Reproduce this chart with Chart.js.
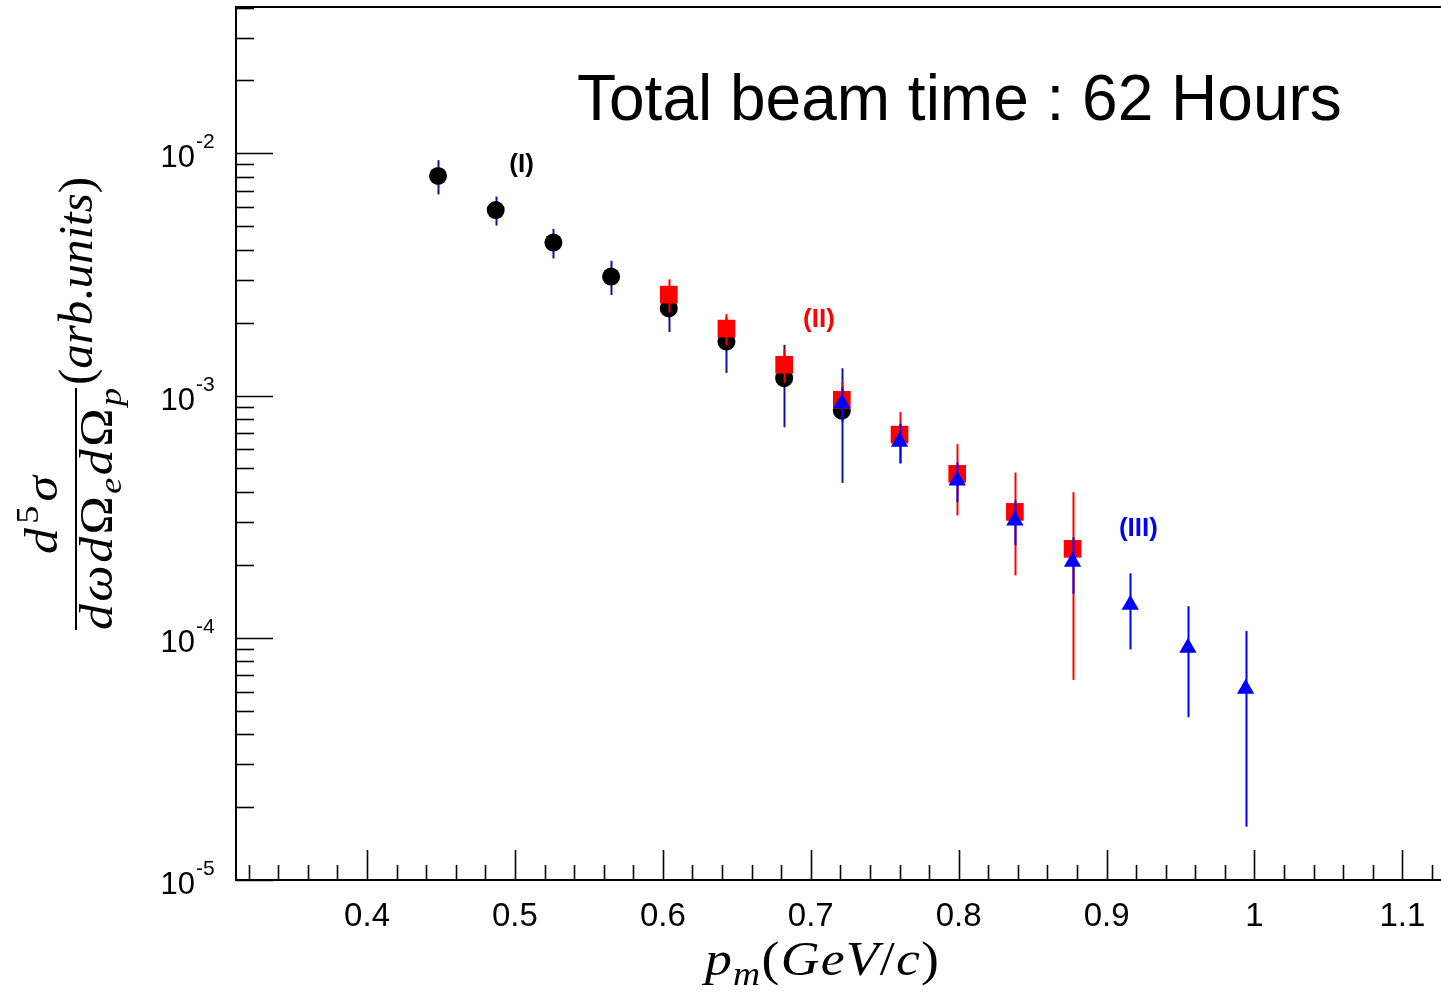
<!DOCTYPE html>
<html>
<head>
<meta charset="utf-8">
<script src="https://cdn.jsdelivr.net/npm/chart.js@4.4.1/dist/chart.umd.min.js"></script>
<style>
  html, body { margin: 0; padding: 0; background: #fff; }
  #wrap { position: relative; width: 1441px; height: 994px; }
</style>
</head>
<body>
<div id="wrap"><canvas id="c" width="1441" height="994"></canvas></div>
<script>
// series (I) : black circles
const pmI = [0.448, 0.487, 0.526, 0.565, 0.604, 0.643, 0.682, 0.721];
const sigmaI = [8.07e-3, 5.83e-3, 4.28e-3, 3.10e-3, 2.29e-3, 1.67e-3, 1.18e-3, 8.66e-4];
const errI = [1.3e-3, 0.8e-3, 0.6e-3, 0.5e-3, 0.46e-3, 0.43e-3, 0.44e-3, 0.43e-3];

// series (II) : red squares
const pmII = [0.604, 0.643, 0.682, 0.721, 0.760, 0.799, 0.838, 0.877];
const sigmaII = [2.61e-3, 1.89e-3, 1.34e-3, 9.6e-4, 6.9e-4, 4.75e-4, 3.31e-4, 2.33e-4];
const errII = [0.41e-3, 0.28e-3, 0.21e-3, 1.7e-4, 1.65e-4, 1.55e-4, 1.5e-4, 1.66e-4];

// series (III) : blue triangles
const pmIII = [0.721, 0.760, 0.799, 0.838, 0.877, 0.916, 0.955, 0.994];
const sigmaIII = [9.3e-4, 6.45e-4, 4.46e-4, 3.05e-4, 2.06e-4, 1.37e-4, 9.1e-5, 6.16e-5];
const errIII = [1.5e-4, 1.2e-4, 0.83e-4, 0.64e-4, 0.54e-4, 0.475e-4, 0.44e-4, 0.45e-4];

// axes
const xMin = 0.3114, xMax = 1.1261;
const yMin = 1e-5, yMax = 0.0402;
const xMajorLabels = ['0.4', '0.5', '0.6', '0.7', '0.8', '0.9', '1', '1.1'];
const yDecadeExp = [-5, -4, -3, -2];
const titleText = 'Total beam time : 62 Hours';
const seriesTags = ['(I)', '(II)', '(III)'];

const SANS = '"Liberation Sans", Arial, Helvetica, sans-serif';
const SERIF = '"Liberation Serif", "Times New Roman", serif';

function pts(xs, ys, es) {
  return xs.map((x, i) => ({ x: x, y: ys[i], e: es[i] }));
}

// --- little helper for latex-ish text runs (slight stretch + math-like spacing)
function runFont(kind, size) {
  const small = kind.endsWith('sub') || kind.endsWith('sup');
  const s = small ? size * 0.7 : size;
  const it = kind.startsWith('i') ? 'italic ' : '';
  return it + s.toFixed(1) + 'px ' + SERIF;
}
function runDy(kind, size) {
  if (kind.endsWith('sub')) return 0.2 * size;
  if (kind.endsWith('sup')) return -0.42 * size;
  return 0;
}
function drawRuns(ctx, runs, x, y, size, targetW, align) {
  let w = 0, n = 0;
  runs.forEach(([t, k]) => {
    ctx.font = runFont(k, size);
    for (const ch of t) { w += ctx.measureText(ch).width; n++; }
  });
  const sx = Math.min(targetW / w, 1.12);
  const gap = n > 1 ? (targetW - w * sx) / (n - 1) : 0;
  ctx.save();
  ctx.textBaseline = 'alphabetic';
  ctx.textAlign = 'left';
  let cx = x + (align === 'center' ? -targetW / 2 : 0);
  runs.forEach(([t, k]) => {
    ctx.font = runFont(k, size);
    for (const ch of t) {
      ctx.save();
      ctx.translate(cx, y + runDy(k, size));
      ctx.scale(sx, 1);
      ctx.fillText(ch, 0, 0);
      ctx.restore();
      cx += ctx.measureText(ch).width * sx + gap;
    }
  });
  ctx.restore();
}

// error bars drawn under each dataset's markers
const errorBars = {
  id: 'errorBars',
  beforeDatasetDraw(chart, args) {
    const ds = chart.data.datasets[args.index];
    const xs = chart.scales.x, ys = chart.scales.y;
    const ctx = chart.ctx;
    ctx.save();
    ctx.strokeStyle = ds.errColor;
    ctx.lineWidth = 2;
    ds.data.forEach(p => {
      const px = Math.round(xs.getPixelForValue(p.x)) + 0.5;
      const lo = Math.max(p.y - p.e, yMin);
      ctx.beginPath();
      ctx.moveTo(px, ys.getPixelForValue(p.y + p.e));
      ctx.lineTo(px, ys.getPixelForValue(lo));
      ctx.stroke();
    });
    ctx.restore();
  }
};

// ROOT style frame, inward ticks, labels and titles
const rootFrame = {
  id: 'rootFrame',
  afterDraw(chart) {
    const ctx = chart.ctx;
    const a = chart.chartArea;
    const xs = chart.scales.x, ys = chart.scales.y;
    ctx.save();
    ctx.strokeStyle = '#000';
    ctx.fillStyle = '#000';

    // frame
    ctx.lineWidth = 2;
    ctx.beginPath();
    ctx.moveTo(a.right + 2, a.top);
    ctx.lineTo(a.left, a.top);
    ctx.lineTo(a.left, a.bottom);
    ctx.lineTo(a.right + 2, a.bottom);
    ctx.stroke();

    // x ticks
    ctx.lineWidth = 1.6;
    for (let i = 16; i <= 56; i++) {
      const v = i / 50;
      if (v < xMin || v > xMax) continue;
      const px = Math.round(xs.getPixelForValue(v)) + 0.5;
      const len = i % 5 === 0 ? 30 : 15;
      ctx.beginPath();
      ctx.moveTo(px, a.bottom);
      ctx.lineTo(px, a.bottom - len);
      ctx.stroke();
    }
    // x labels
    ctx.font = '33px ' + SANS;
    ctx.textAlign = 'center';
    ctx.textBaseline = 'alphabetic';
    xMajorLabels.forEach(lab => {
      const px = xs.getPixelForValue(parseFloat(lab));
      ctx.fillText(lab, px, a.bottom + 46);
    });

    // y ticks
    yDecadeExp.forEach(ex => {
      for (let m = 1; m <= 9; m++) {
        const v = m * Math.pow(10, ex);
        if (v > yMax) break;
        const py = Math.round(ys.getPixelForValue(v)) + 0.5;
        const len = m === 1 ? 37 : 18;
        ctx.beginPath();
        ctx.moveTo(a.left, py);
        ctx.lineTo(a.left + len, py);
        ctx.stroke();
      }
    });
    // y labels 10^n
    yDecadeExp.forEach(ex => {
      const py = ys.getPixelForValue(Math.pow(10, ex));
      ctx.font = '31px ' + SANS;
      ctx.textAlign = 'right';
      ctx.fillText('10', 195, py + 14);
      ctx.font = '21px ' + SANS;
      ctx.textAlign = 'left';
      ctx.fillText(String(ex), 196, py - 5);
    });

    // big title inside the frame
    ctx.font = '64px ' + SANS;
    ctx.textAlign = 'left';
    ctx.fillText(titleText, 577, 120);

    // series tags
    ctx.font = 'bold 26px ' + SANS;
    ctx.textAlign = 'center';
    ctx.textBaseline = 'middle';
    const tagColors = ['#000000', '#ff0000', '#0000ff'];
    const tagPos = [[0.5045, 9.0e-3], [0.7055, 2.06e-3], [0.9215, 2.81e-4]];
    seriesTags.forEach((t, i) => {
      ctx.fillStyle = tagColors[i];
      ctx.fillText(t, xs.getPixelForValue(tagPos[i][0]), ys.getPixelForValue(tagPos[i][1]));
    });
    ctx.fillStyle = '#000';

    // x title  p_m(GeV/c)
    drawRuns(ctx, [['p', 'i'], ['m', 'isub'], ['(', 'r'], ['GeV', 'i'], ['/', 'r'], ['c', 'i'], [')', 'r']],
      705, 975, 48, 234, 'left');

    // y title, rotated
    ctx.save();
    ctx.rotate(-Math.PI / 2);
    // numerator d^5 sigma
    drawRuns(ctx, [['d', 'i'], ['5', 'rsup'], ['\u03c3', 'i']], -515, 57, 46, 78, 'center');
    // fraction bar
    ctx.lineWidth = 2;
    ctx.beginPath();
    ctx.moveTo(-630, 76);
    ctx.lineTo(-388, 76);
    ctx.stroke();
    // denominator
    drawRuns(ctx, [['d\u03c9d', 'i'], ['\u03a9', 'r'], ['e', 'isub'], ['d', 'i'], ['\u03a9', 'r'], ['p', 'isub']],
      -509, 112, 46, 242, 'center');
    // (arb.units)
    drawRuns(ctx, [['(', 'r'], ['arb', 'i'], ['.', 'r'], ['units', 'i'], [')', 'r']], -385, 92, 48, 208, 'left');
    ctx.restore();

    ctx.restore();
  }
};

new Chart(document.getElementById('c'), {
  type: 'scatter',
  data: {
    datasets: [
      {
        label: '(I)',
        data: pts(pmI, sigmaI, errI),
        order: 3,
        pointStyle: 'circle',
        pointRadius: 9,
        backgroundColor: '#000000',
        borderWidth: 0,
        errColor: '#12129a'
      },
      {
        label: '(II)',
        data: pts(pmII, sigmaII, errII),
        order: 2,
        pointStyle: 'rect',
        pointRadius: 12.5,
        backgroundColor: '#ff0000',
        borderWidth: 0,
        errColor: '#ff0000'
      },
      {
        label: '(III)',
        data: pts(pmIII, sigmaIII, errIII),
        order: 1,
        pointStyle: 'triangle',
        pointRadius: 10,
        backgroundColor: '#0000ff',
        borderWidth: 0,
        errColor: '#0000ff'
      }
    ]
  },
  options: {
    responsive: false,
    animation: false,
    devicePixelRatio: 1,
    layout: { autoPadding: false, padding: { left: 236, top: 7, right: 0, bottom: 114 } },
    plugins: {
      legend: { display: false },
      tooltip: { enabled: false }
    },
    scales: {
      x: { type: 'linear', min: xMin, max: xMax, display: false },
      y: { type: 'logarithmic', min: yMin, max: yMax, display: false }
    }
  },
  plugins: [errorBars, rootFrame]
});
</script>
</body>
</html>
